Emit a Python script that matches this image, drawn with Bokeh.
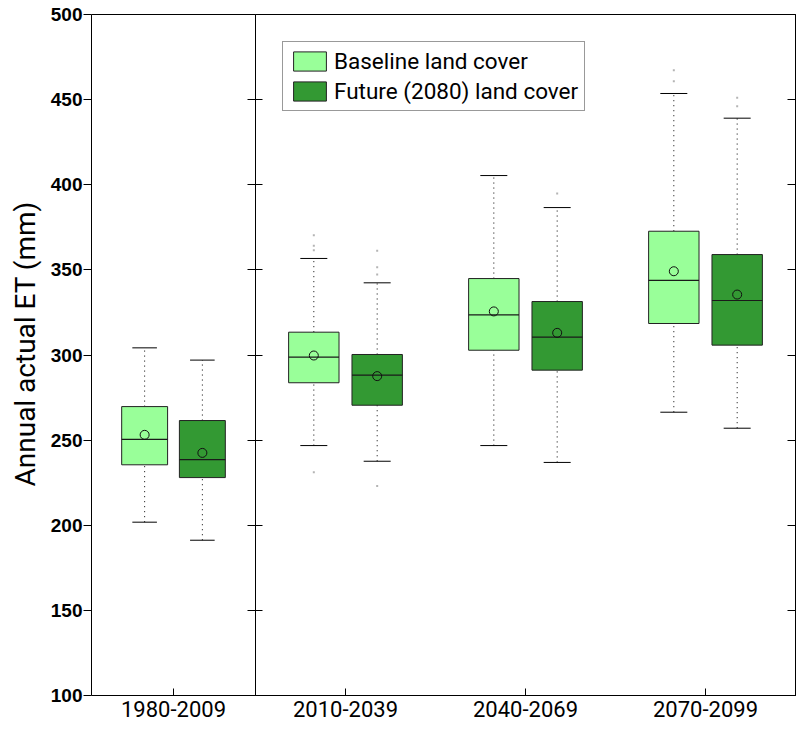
from bokeh.plotting import figure
from bokeh.models import (ColumnDataSource, FactorRange, Range1d, LinearAxis,
                          CategoricalAxis, SingleIntervalTicker, Title)
from bokeh.transform import dodge
from bokeh.layouts import row
from bokeh.embed import file_html
from bokeh.resources import INLINE

periods = ["1980-2009", "2010-2039", "2040-2069", "2070-2099"]

# Baseline land cover
base_lo = [201.8, 246.8, 246.8, 266.4]
base_q1 = [235.5, 283.7, 302.8, 318.5]
base_med = [250.4, 298.7, 323.6, 343.8]
base_q3 = [269.7, 313.4, 344.9, 372.7]
base_hi = [304.2, 356.7, 405.4, 453.6]
base_mean = [253.1, 299.7, 325.6, 349.2]
base_out_period = ["2010-2039", "2010-2039", "2010-2039", "2010-2039", "2070-2099", "2070-2099"]
base_out_value = [370.4, 364.2, 361.6, 231.2, 467.3, 460.8]

# Future (2080) land cover
fut_lo = [191.2, 237.6, 236.9, 257.0]
fut_q1 = [228.0, 270.5, 291.1, 305.8]
fut_med = [238.6, 288.2, 310.5, 332.0]
fut_q3 = [261.5, 300.3, 331.4, 359.0]
fut_hi = [297.0, 342.4, 386.6, 439.1]
fut_mean = [242.5, 287.6, 313.0, 335.5]
fut_out_period = ["2010-2039", "2010-2039", "2010-2039", "2010-2039", "2040-2069", "2070-2099", "2070-2099"]
fut_out_value = [361.3, 351.6, 347.3, 223.0, 394.9, 451.1, 446.1]

y_label = "Annual actual ET (mm)"
series_labels = ["Baseline land cover", "Future (2080) land cover"]

LIGHT = "#99FF99"
DARK = "#339933"
BOX_W = 0.28
CAP_W = 0.15
OFF = 0.176

series = [
    (series_labels[0], LIGHT, -OFF, base_lo, base_q1, base_med, base_q3, base_hi, base_mean,
     base_out_period, base_out_value),
    (series_labels[1], DARK, OFF, fut_lo, fut_q1, fut_med, fut_q3, fut_hi, fut_mean,
     fut_out_period, fut_out_value),
]

FRAME_H = 681


def make_fig(cats, width, mb_left, mb_right):
    p = figure(x_range=FactorRange(*cats), y_range=Range1d(100, 500),
               frame_width=width, frame_height=FRAME_H,
               min_border_left=mb_left, min_border_right=mb_right,
               min_border_top=14, min_border_bottom=36,
               output_backend="svg", toolbar_location=None,
               background_fill_color="white", border_fill_color="white")
    p.xgrid.visible = False
    p.ygrid.visible = False
    return p


def draw(p, cats, with_legend):
    for label, color, off, lo, q1, med, q3, hi, mean, op, ov in series:
        idx = [periods.index(c) for c in cats]
        src = ColumnDataSource(dict(
            period=[periods[i] for i in idx],
            lo=[lo[i] for i in idx], q1=[q1[i] for i in idx],
            med=[med[i] for i in idx], q3=[q3[i] for i in idx],
            hi=[hi[i] for i in idx], mean=[mean[i] for i in idx]))
        xc = dodge("period", off, range=p.x_range)
        xl = dodge("period", off - CAP_W / 2, range=p.x_range)
        xr = dodge("period", off + CAP_W / 2, range=p.x_range)
        bl = dodge("period", off - BOX_W / 2, range=p.x_range)
        br = dodge("period", off + BOX_W / 2, range=p.x_range)
        # whiskers (dotted)
        p.segment(x0=xc, x1=xc, y0="q3", y1="hi", source=src,
                  line_color="black", line_width=1, line_dash="1 4")
        p.segment(x0=xc, x1=xc, y0="lo", y1="q1", source=src,
                  line_color="black", line_width=1, line_dash="1 4")
        # caps
        p.segment(x0=xl, x1=xr, y0="hi", y1="hi", source=src, line_color="black", line_width=1)
        p.segment(x0=xl, x1=xr, y0="lo", y1="lo", source=src, line_color="black", line_width=1)
        # box
        kw = dict(legend_label=label) if with_legend else {}
        p.vbar(x=xc, width=BOX_W, top="q3", bottom="q1", source=src,
               fill_color=color, line_color="#222222", line_width=1, **kw)
        # median
        p.segment(x0=bl, x1=br, y0="med", y1="med", source=src, line_color="#1a1a1a", line_width=1.2)
        # mean
        p.scatter(x=xc, y="mean", source=src, marker="circle", size=9,
                  fill_color=None, line_color="#111111", line_width=1)
        # outliers
        osrc = ColumnDataSource(dict(
            period=[a for a, b in zip(op, ov) if a in cats],
            value=[b for a, b in zip(op, ov) if a in cats]))
        p.scatter(x=dodge("period", off, range=p.x_range), y="value", source=osrc,
                  marker="square", size=2, fill_color="#b4b4b4", line_color=None)


yticker = SingleIntervalTicker(interval=50)


def hidden_labels(ax):
    ax.major_label_text_font_size = "0px"
    ax.major_label_text_color = None
    ax.major_label_standoff = 0


def style_bottom(ax):
    ax.major_tick_in = 7
    ax.major_tick_out = 0
    ax.major_label_standoff = 5
    ax.major_label_text_font = "Roboto"
    ax.major_label_text_font_size = "22px"
    ax.major_label_text_color = "black"
    ax.axis_line_color = "black"
    ax.major_tick_line_color = "black"


# ---------- left panel ----------
cats1 = periods[:1]
p1 = make_fig(cats1, 164, 87, 0)
p1.outline_line_color = None
draw(p1, cats1, False)
style_bottom(p1.below[0])

yl = p1.left[0]
yl.ticker = yticker
yl.major_tick_out = 8
yl.major_tick_in = 0
yl.minor_tick_out = 0
yl.minor_tick_in = 0
yl.major_label_standoff = 1
yl.major_label_text_font = "Liberation Sans"
yl.major_label_text_font_style = "bold"
yl.major_label_text_font_size = "19px"
yl.major_label_text_color = "black"
yl.axis_line_color = "black"
yl.major_tick_line_color = "black"

p1.add_layout(Title(text=y_label, align="left", offset=209, standoff=12,
                    text_font="Roboto", text_font_size="28px",
                    text_font_style="normal", text_color="black"), "left")

ax_r1 = LinearAxis(ticker=yticker, major_tick_in=8, major_tick_out=0,
                   minor_tick_in=0, minor_tick_out=0,
                   axis_line_color=None, major_tick_line_color="black")
hidden_labels(ax_r1)
p1.add_layout(ax_r1, "right")
ax_t1 = CategoricalAxis(major_tick_in=0, major_tick_out=0, axis_line_color="black")
hidden_labels(ax_t1)
p1.add_layout(ax_t1, "above")

# ---------- right panel ----------
cats2 = periods[1:]
p2 = make_fig(cats2, 540, 0, 3)
p2.outline_line_color = "black"
p2.outline_line_alpha = 1
draw(p2, cats2, True)
style_bottom(p2.below[0])

yl2 = p2.left[0]
yl2.ticker = yticker
yl2.major_tick_in = 7
yl2.major_tick_out = 0
yl2.minor_tick_in = 0
yl2.minor_tick_out = 0
hidden_labels(yl2)
yl2.axis_line_color = "black"
yl2.major_tick_line_color = "black"
ax_r2 = LinearAxis(ticker=yticker, major_tick_in=8, major_tick_out=0,
                   minor_tick_in=0, minor_tick_out=0,
                   axis_line_color="black", major_tick_line_color="black")
hidden_labels(ax_r2)
p2.add_layout(ax_r2, "right")

lg = p2.legend[0]
lg.location = "top_left"
lg.margin = 27
lg.padding = 6
lg.spacing = 4
lg.glyph_width = 41
lg.glyph_height = 24
lg.label_height = 24
lg.label_standoff = 4
lg.label_text_font = "Roboto"
lg.label_text_font_size = "22.5px"
lg.label_text_color = "black"
lg.border_line_color = "#333333"
lg.border_line_width = 1
lg.background_fill_color = "white"
lg.background_fill_alpha = 1

layout = row(p1, p2, spacing=0)

open("out.html", "w").write(file_html(layout, INLINE))
